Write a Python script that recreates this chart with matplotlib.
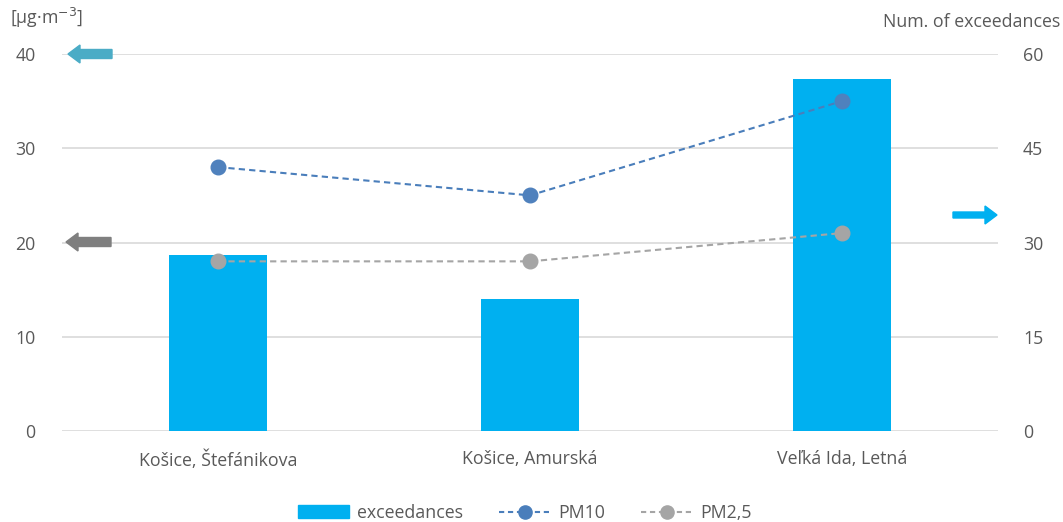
import matplotlib
matplotlib.use("Agg")
import matplotlib.pyplot as plt
from matplotlib.lines import Line2D
from matplotlib.patches import Patch
import numpy as np

plt.rcParams['font.family'] = ['Open Sans', 'DejaVu Sans']

categories = ["Košice, Štefánikova", "Košice, Amurská", "Veľká Ida, Letná"]
exceedances = [28, 21, 56]
pm10 = [28, 25, 35]
pm25 = [18, 18, 21]

left_ticks = [0, 10, 20, 30, 40]
right_ticks = [0, 15, 30, 45, 60]

FS = 12.8
W, H = 1063, 522
fig = plt.figure(figsize=(W/100, H/100), dpi=100)
ax = fig.add_axes([62/W, 1-431/H, (998-62)/W, (431-54)/H])
ax2 = ax.twinx()

x = np.arange(len(categories))
ax2.bar(x, exceedances, width=0.315, color="#00B0F0", zorder=2)
ax2.set_ylim(0, 60)
ax2.set_yticks(right_ticks)
ax2.grid(axis='y', color="#D9D9D9", linewidth=1.2, zorder=0)
ax2.set_axisbelow(True)

ax.set_zorder(ax2.get_zorder() + 1)
ax.patch.set_visible(False)
ax.plot(x, pm10, linestyle=(0, (3, 2)), color="#4A7EBB", linewidth=1.5,
        marker='o', markersize=10.5, markerfacecolor="#4F81BD", markeredgecolor="#4F81BD")
ax.plot(x, pm25, linestyle=(0, (3, 2)), color="#A5A5A5", linewidth=1.5,
        marker='o', markersize=10.5, markerfacecolor="#A5A5A5", markeredgecolor="#A5A5A5")
ax.set_ylim(0, 40)
ax.set_yticks(left_ticks)
ax.set_xlim(-0.5, 2.5)
ax.set_xticks(x)
ax.set_xticklabels(categories)

for a in (ax, ax2):
    for s in a.spines.values():
        s.set_visible(False)
    a.tick_params(length=0, labelsize=FS, colors="#595959")
ax.tick_params(axis='y', pad=19)
ax2.tick_params(axis='y', pad=18)
ax.tick_params(axis='x', pad=14)

fig.text(10/W, 1-18/H, "[µg·m$^{-3}$]", fontsize=FS, color="#595959", va='center', ha='left')
fig.text(1060/W, 1-22/H, "Num. of exceedances", fontsize=FS, color="#595959", va='center', ha='right')

def arrow(x0, x1, y, color, w=7):
    fig.patches.append(matplotlib.patches.FancyArrow(
        x0/W, 1-y/H, (x1-x0)/W, 0, width=w/H, head_width=18/H, head_length=12/W,
        length_includes_head=True, transform=fig.transFigure, color=color, figure=fig))

arrow(112, 68, 54, "#4BACC6", 9)
arrow(111, 66, 242, "#7F7F7F", 9)
arrow(953, 997, 215, "#00B0F0", 6)

handles = [Patch(color="#00B0F0"),
           Line2D([], [], linestyle=(0, (2.5, 1.8)), color="#4A7EBB", linewidth=1.5, marker='o', markersize=9.5),
           Line2D([], [], linestyle=(0, (2.5, 1.8)), color="#A5A5A5", linewidth=1.5, marker='o', markersize=9.5)]
leg = fig.legend(handles, ["exceedances", "PM10", "PM2,5"], loc='center', ncol=3,
                 bbox_to_anchor=(525/W, 1-513/H), frameon=False, fontsize=FS,
                 handlelength=2.9, columnspacing=2.0, handletextpad=0.45, handleheight=0.75)
for t in leg.get_texts():
    t.set_color("#595959")

fig.savefig("out.png", dpi=100)
